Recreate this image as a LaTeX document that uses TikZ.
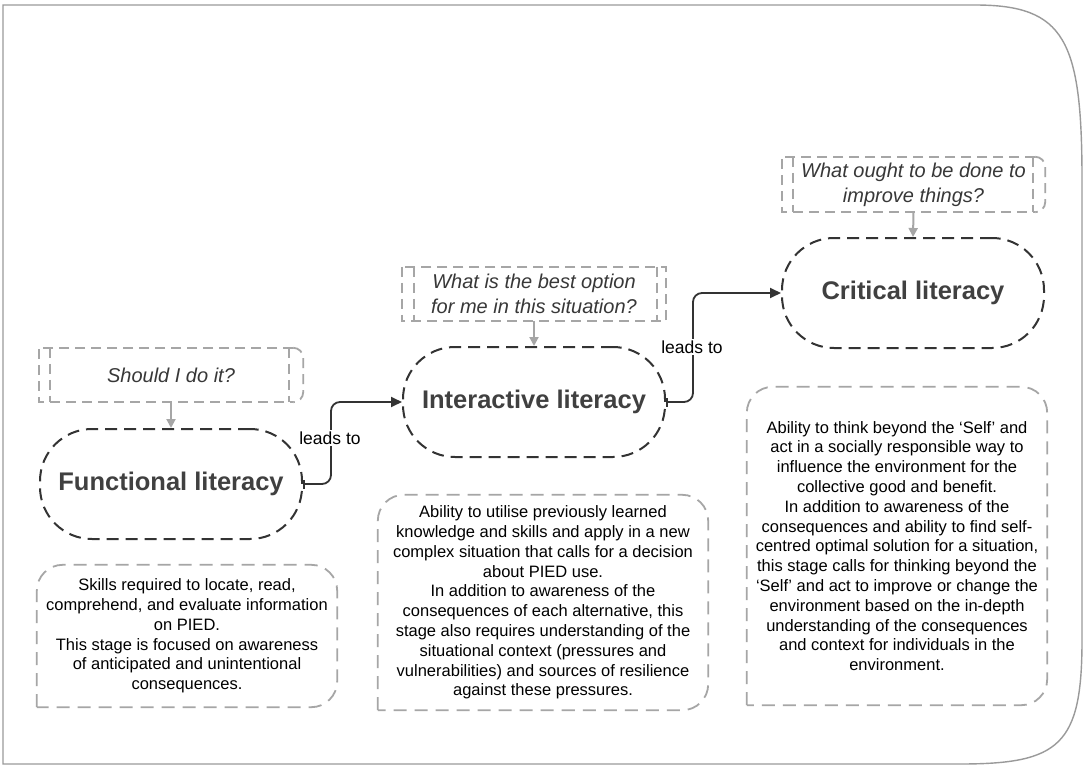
\documentclass[tikz,border=0pt]{standalone}
\usepackage{fontspec}
\setmainfont{Liberation Sans}
\usetikzlibrary{arrows.meta}
\definecolor{darkline}{HTML}{333333}
\definecolor{lightline}{HTML}{A6A6A6}
\definecolor{titlegray}{HTML}{404040}
\definecolor{qgray}{HTML}{383838}
\definecolor{framegray}{HTML}{9A9A9A}
\begin{document}
\begin{tikzpicture}[x=1pt,y=-1pt,
  mainnode/.style={draw=darkline, line width=2pt, dash pattern=on 12pt off 7pt,
    rounded corners=52pt, minimum width=262pt, minimum height=110pt, inner sep=0pt,
    font=\bfseries\fontsize{25.5}{30}\selectfont, text=titlegray},
  qnode/.style={inner sep=0pt, align=center, text=qgray,
    font=\itshape\fontsize{20}{25}\selectfont},
  qline/.style={draw=lightline, line width=1.8pt, dash pattern=on 10pt off 6pt},
  dnode/.style={inner sep=0pt, align=center, text=black,
    font=\fontsize{16.5}{19.8}\selectfont},
  dline/.style={draw=lightline, line width=1.8pt, dash pattern=on 13pt off 8pt},
  qarrow/.style={draw=lightline, line width=2pt, -{Triangle[length=9pt,width=9pt]}},
  conn/.style={draw=darkline, line width=1.8pt, rounded corners=9pt,
    {Bar[width=9pt,line width=1.6pt]}-{Triangle[length=11pt,width=10pt]}},
  lbl/.style={fill=white, inner sep=2pt, font=\fontsize{17.5}{20}\selectfont, text=black}
]
\useasboundingbox (0,0) rectangle (1084,768);
\fill[white] (0,0) rectangle (1084,768);

% outer frame
\draw[framegray, line width=1.4pt] (975,5) -- (3,5) -- (3,764) -- (960,764)
  .. controls (1060,764) and (1082,745) .. (1082,640) -- (1082,180)
  .. controls (1082,40) and (1065,5) .. (975,5) -- cycle;

% main nodes
\node[mainnode] (f) at (171,484) {Functional literacy};
\node[mainnode] (i) at (534,402) {Interactive literacy};
\node[mainnode] (c) at (913,293) {Critical literacy};

% question nodes
\node[qnode, minimum width=264pt, minimum height=54pt] (q1) at (171,375) {Should I do it?};
\node[qnode, minimum width=264pt, minimum height=54pt] (q2) at (534,294) {What is the best option\\for me in this situation?};
\node[qnode, minimum width=263pt, minimum height=55pt] (q3) at (913.5,184.5) {What ought to be done to\\improve things?};

% question box outlines
% q1 (rounded right end)
\draw[qline] ([xshift=-10pt]q1.north east) -- (q1.north west) -- (q1.south west) -- ([xshift=-10pt]q1.south east);
\draw[qline, rounded corners=10pt] ([xshift=-10pt]q1.north east) -- (q1.north east) -- (q1.south east) -- ([xshift=-10pt]q1.south east);
\draw[qline] ([xshift=11pt]q1.north west) -- ([xshift=11pt]q1.south west);
\draw[qline] ([xshift=-14pt]q1.north east) -- ([xshift=-14pt]q1.south east);
% q2 (square both ends)
\draw[qline] (q2.north west) rectangle (q2.south east);
\draw[qline] ([xshift=12pt]q2.north west) -- ([xshift=12pt]q2.south west);
\draw[qline] ([xshift=-9pt]q2.north east) -- ([xshift=-9pt]q2.south east);
% q3 (rounded right end)
\draw[qline] ([xshift=-10pt]q3.north east) -- (q3.north west) -- (q3.south west) -- ([xshift=-10pt]q3.south east);
\draw[qline, rounded corners=10pt] ([xshift=-10pt]q3.north east) -- (q3.north east) -- (q3.south east) -- ([xshift=-10pt]q3.south east);
\draw[qline] ([xshift=11pt]q3.north west) -- ([xshift=11pt]q3.south west);
\draw[qline] ([xshift=-12pt]q3.north east) -- ([xshift=-12pt]q3.south east);

% question arrows
\draw[qarrow] (q1.south) -- (f.north);
\draw[qarrow] (q2.south) -- (i.north);
\draw[qarrow] (q3.south) -- (c.north);

% description nodes
\node[dnode, minimum width=300pt, minimum height=142pt] (d1) at (187,636) {Skills required to locate, read,\\comprehend, and evaluate information\\on PIED.\\This stage is focused on awareness\\of anticipated and unintentional\\consequences.};
\node[dnode, minimum width=330pt, minimum height=215pt] (d2) at (543,602.5) {Ability to utilise previously learned\\knowledge and skills and apply in a new\\complex situation that calls for a decision\\about PIED use.\\In addition to awareness of the\\consequences of each alternative, this\\stage also requires understanding of the\\situational context (pressures and\\vulnerabilities) and sources of resilience\\against these pressures.};
\node[dnode, minimum width=300pt, minimum height=318pt] (d3) at (897,546) {Ability to think beyond the ‘Self’ and\\act in a socially responsible way to\\influence the environment for the\\collective good and benefit.\\In addition to awareness of the\\consequences and ability to find self-\\centred optimal solution for a situation,\\this stage calls for thinking beyond the\\‘Self’ and act to improve or change the\\environment based on the in-depth\\understanding of the consequences\\and context for individuals in the\\environment.};

% description outlines (bottom-left corner square)
\foreach \d in {d1,d2,d3}{
  \draw[dline, rounded corners=26pt] (\d.south west) -- (\d.north west) -- (\d.north east) -- (\d.south east) -- (\d.south west);
}

% connectors
\draw[conn] (f.east) -- ++(28,0) |- (i.west);
\draw[conn] (i.east) -- ++(27,0) |- (c.west);
\node[lbl] (l1) at (330,438) {leads to};
\node[lbl] (l2) at (692,347) {leads to};
\end{tikzpicture}
\end{document}
